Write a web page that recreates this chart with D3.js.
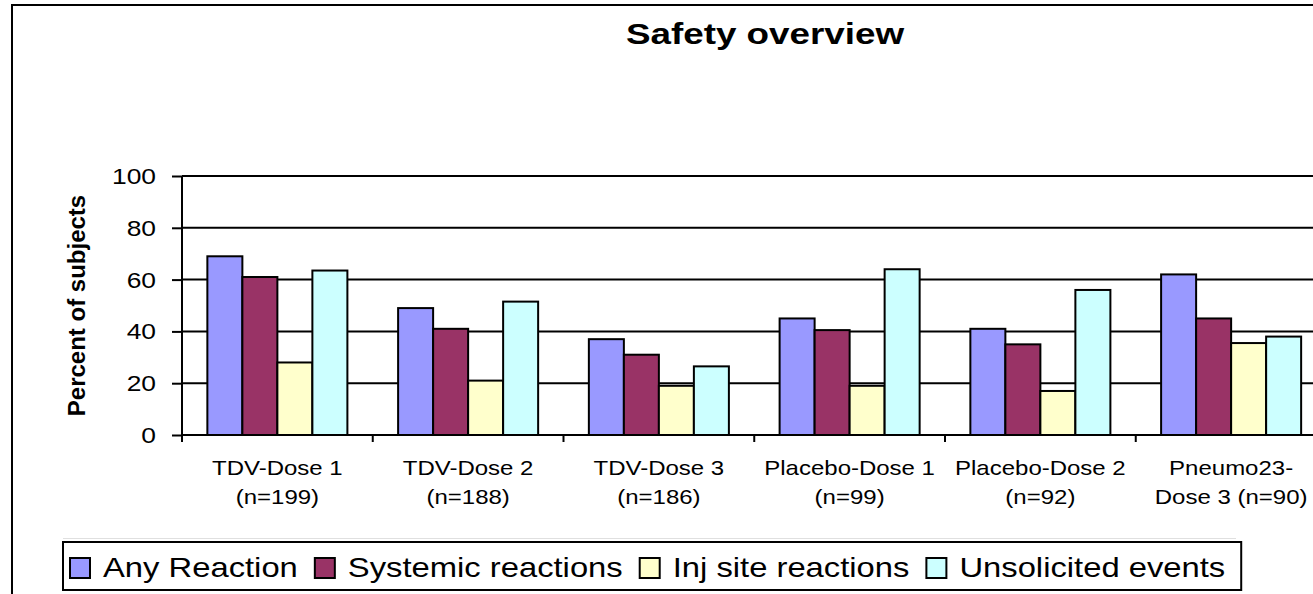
<!DOCTYPE html>
<html>
<head>
<meta charset="utf-8">
<script src="https://cdn.jsdelivr.net/npm/d3@7/dist/d3.min.js"></script>
<style>
  html, body { margin: 0; padding: 0; background: #fff; overflow: hidden; }
  svg { display: block; font-family: "Liberation Sans", Arial, sans-serif; }
</style>
</head>
<body>
<script>
// ---- data ----
const categories = [
  ["TDV-Dose 1", "(n=199)"],
  ["TDV-Dose 2", "(n=188)"],
  ["TDV-Dose 3", "(n=186)"],
  ["Placebo-Dose 1", "(n=99)"],
  ["Placebo-Dose 2", "(n=92)"],
  ["Pneumo23-", "Dose 3 (n=90)"]
];
const seriesNames = ["Any Reaction", "Systemic reactions", "Inj site reactions", "Unsolicited events"];
const anyReaction = [69, 49, 37, 45, 41, 62];
const systemicReactions = [61, 41, 31, 40.5, 35, 45];
const injSiteReactions = [28, 21, 19, 19, 17, 35.5];
const unsolicitedEvents = [63.5, 51.5, 26.5, 64, 56, 38];
const yTicks = [0, 20, 40, 60, 80, 100];
const titleText = "Safety overview";
const yAxisTitle = "Percent of subjects";

const seriesValues = [anyReaction, systemicReactions, injSiteReactions, unsolicitedEvents];
const colors = ["#9999FF", "#993366", "#FFFFCC", "#CCFFFF"];

// ---- layout ----
const W = 1313, H = 594;
const plotLeft = 182, plotTop = 176, plotBottom = 435;
const catStep = 190.75;
const plotRight = plotLeft + catStep * categories.length;

const svg = d3.select("body").append("svg").attr("width", W).attr("height", H);

// outer frame
svg.append("rect").attr("x", 12).attr("y", 5).attr("width", 1500).attr("height", 800)
  .attr("fill", "#fff").attr("stroke", "#000").attr("stroke-width", 2);

const x0 = d3.scaleBand().domain(d3.range(categories.length)).range([plotLeft, plotRight]).paddingInner(0).paddingOuter(0);
const x1 = d3.scaleBand().domain(d3.range(seriesNames.length)).range([0, x0.bandwidth()]).paddingInner(0).paddingOuter(0.7245);
const y = d3.scaleLinear().domain([0, 100]).range([plotBottom, plotTop]);

function stretchText(sel, x, yy, sx) {
  sel.attr("transform", `translate(${x},${yy}) scale(${sx},1)`);
}

// gridlines
svg.append("g").selectAll("line").data(yTicks.filter(d => d > 0)).join("line")
  .attr("x1", plotLeft).attr("x2", plotRight + 10)
  .attr("y1", d => y(d)).attr("y2", d => y(d))
  .attr("stroke", "#000").attr("stroke-width", 2);

// bars
const groups = svg.append("g").selectAll("g").data(categories.map((c, i) => i)).join("g")
  .attr("transform", i => `translate(${x0(i)},0)`);
groups.selectAll("rect").data(i => seriesValues.map((s, k) => ({ k, v: s[i] }))).join("rect")
  .attr("x", d => x1(d.k))
  .attr("width", x1.bandwidth())
  .attr("y", d => y(d.v))
  .attr("height", d => y(0) - y(d.v))
  .attr("fill", d => colors[d.k])
  .attr("stroke", "#000").attr("stroke-width", 2);

// y axis
const yAxis = d3.axisLeft(y).tickValues(yTicks).tickSize(10).tickFormat("");
const yg = svg.append("g").attr("transform", `translate(${plotLeft},0)`).call(yAxis);
yg.select(".domain").attr("stroke", "#000").attr("stroke-width", 2).attr("d", `M0,${plotTop}V${plotBottom}`);
yg.selectAll(".tick line").attr("stroke", "#000").attr("stroke-width", 2);
svg.append("g").selectAll("text").data(yTicks).join("text")
  .attr("text-anchor", "end").attr("font-size", 22).attr("fill", "#000")
  .text(d => d)
  .each(function (d) { stretchText(d3.select(this), 156, y(d) + 8, 1.2); });

// x axis
const xBoundaries = d3.range(categories.length + 1).map(i => plotLeft + i * x0.step());
svg.append("line").attr("x1", plotLeft - 1).attr("x2", plotRight + 10)
  .attr("y1", plotBottom).attr("y2", plotBottom).attr("stroke", "#000").attr("stroke-width", 2);
svg.append("g").selectAll("line").data(xBoundaries).join("line")
  .attr("x1", d => d).attr("x2", d => d).attr("y1", plotBottom).attr("y2", plotBottom + 7)
  .attr("stroke", "#000").attr("stroke-width", 2);

const catG = svg.append("g");
categories.forEach((lines, i) => {
  const cx = x0(i) + x0.bandwidth() / 2;
  lines.forEach((ln, j) => {
    catG.append("text").attr("text-anchor", "middle").attr("font-size", 20).attr("fill", "#000")
      .text(ln).call(s => stretchText(s, cx, 475 + j * 29, 1.2));
  });
});

// y axis title
svg.append("text").attr("text-anchor", "middle").attr("font-size", 24).attr("font-weight", "bold")
  .attr("transform", `translate(85,${(193 + 418) / 2}) rotate(-90)`).text(yAxisTitle);

// title
svg.append("text").attr("text-anchor", "middle").attr("font-size", 29).attr("font-weight", "bold")
  .text(titleText).call(s => stretchText(s, 765, 44, 1.27));

// legend
svg.append("line").attr("x1", 63).attr("x2", 1236).attr("y1", 538.5).attr("y2", 538.5)
  .attr("stroke", "#e0e0e0").attr("stroke-width", 1);
const legendBox = svg.append("rect").attr("y", 542).attr("height", 48)
  .attr("fill", "#fff").attr("stroke", "#000").attr("stroke-width", 2);
const lg = svg.append("g");
let lx = 70;
const legSx = 1.17;
seriesNames.forEach((name, k) => {
  lg.append("rect").attr("x", lx).attr("y", 558).attr("width", 20).attr("height", 20)
    .attr("fill", colors[k]).attr("stroke", "#000").attr("stroke-width", 2);
  const t = lg.append("text").attr("font-size", 28).attr("fill", "#000").text(name);
  stretchText(t, lx + 33, 577, legSx);
  const w = t.node().getComputedTextLength() * legSx;
  lx = lx + 33 + w + 17;
});
legendBox.attr("x", 63).attr("width", lx - 17 + 16 - 63);
</script>
</body>
</html>
